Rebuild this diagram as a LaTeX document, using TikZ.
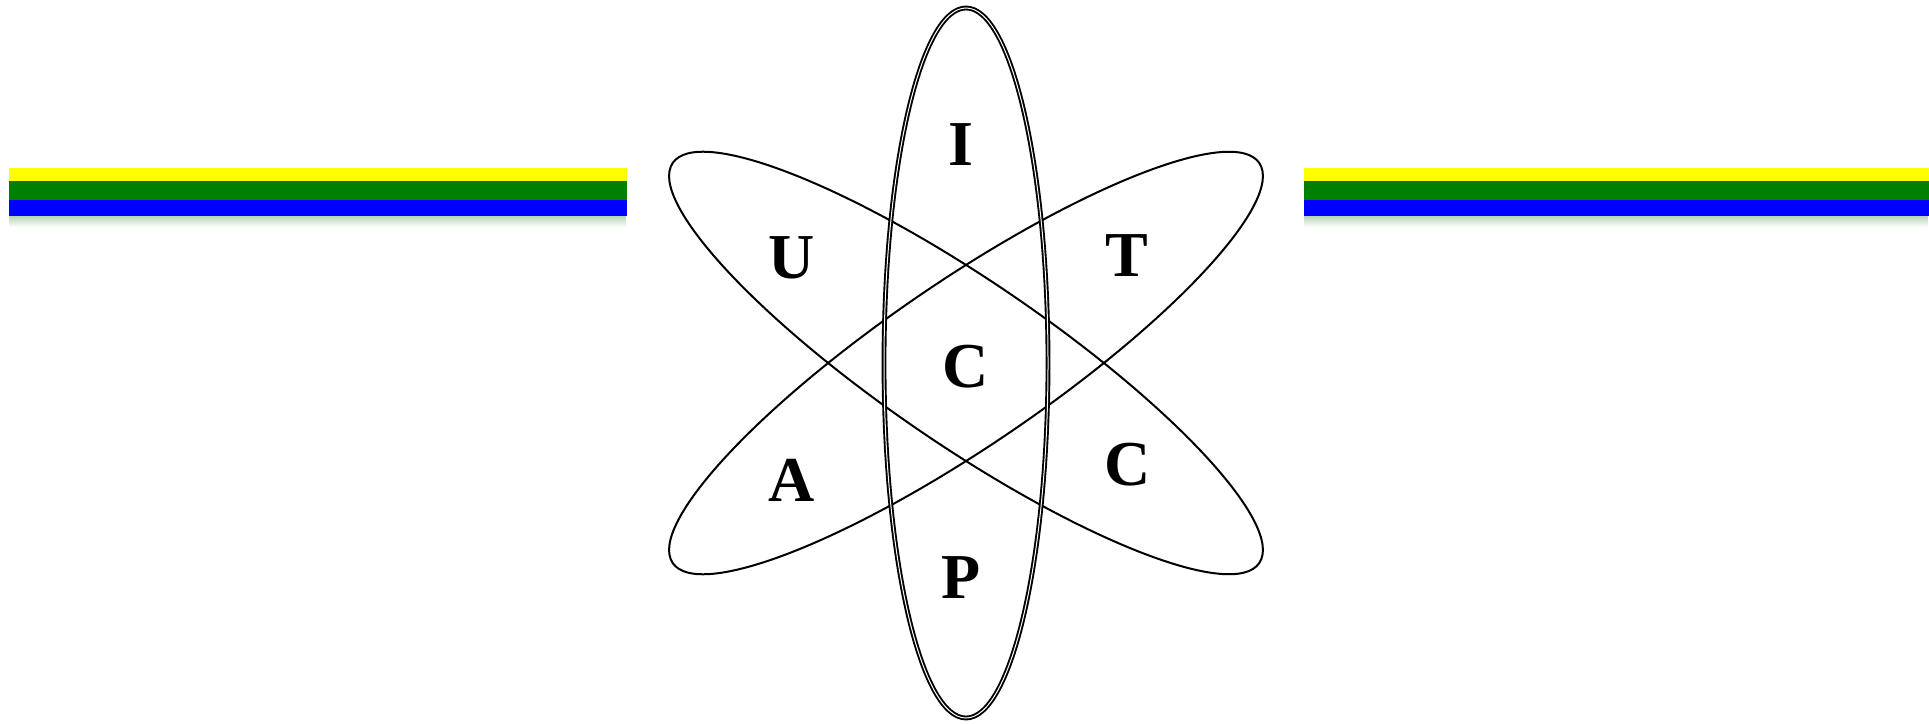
\documentclass[tikz,border=0pt]{standalone}
\usepackage{fontspec}
\setmainfont{Liberation Serif}
\usetikzlibrary{fadings}
\definecolor{stripeyellow}{RGB}{255,255,0}
\definecolor{stripegreen}{RGB}{0,128,0}
\definecolor{stripeblue}{RGB}{0,0,255}
\begin{document}
\begin{tikzpicture}[x=1pt,y=1pt,
  orbit/.style={draw=black,line width=2pt},
  dorbit/.style={draw=black,line width=1.9pt,double=white,double distance=1.0pt},
  letter/.style={font=\fontsize{64}{64}\selectfont\bfseries,inner sep=0pt},
  shadowbar/.style={fill=stripegreen!60!gray,opacity=0.35,path fading=south}]
\useasboundingbox (0,0) rectangle (1929,723);
\coordinate (ctr) at (966,360);
% stripes
\foreach \xa/\xb in {9/627,1304/1929}{
  \fill[shadowbar] (\xa,496) rectangle (\xb,507);
  \fill[stripeyellow] (\xa,542) rectangle (\xb,555);
  \fill[stripegreen] (\xa,523) rectangle (\xb,542);
  \fill[stripeblue] (\xa,507) rectangle (\xb,523);
}
% orbits
\draw[orbit,rotate around={-34.3:(ctr)}] (ctr) ellipse [x radius=355pt,y radius=82pt];
\draw[orbit,rotate around={34.3:(ctr)}] (ctr) ellipse [x radius=355pt,y radius=82pt];
\draw[dorbit] (ctr) ellipse [x radius=82pt,y radius=355pt];
% letters
\node[letter] (lI) at (961,578) {I};
\node[letter] (lU) at (792,465) {U};
\node[letter] (lT) at (1127,467) {T};
\node[letter] (lC) at (966,356) {C};
\node[letter] (lC2) at (1128,258) {C};
\node[letter] (lA) at (792,243) {A};
\node[letter] (lP) at (961,145) {P};
\end{tikzpicture}
\end{document}
